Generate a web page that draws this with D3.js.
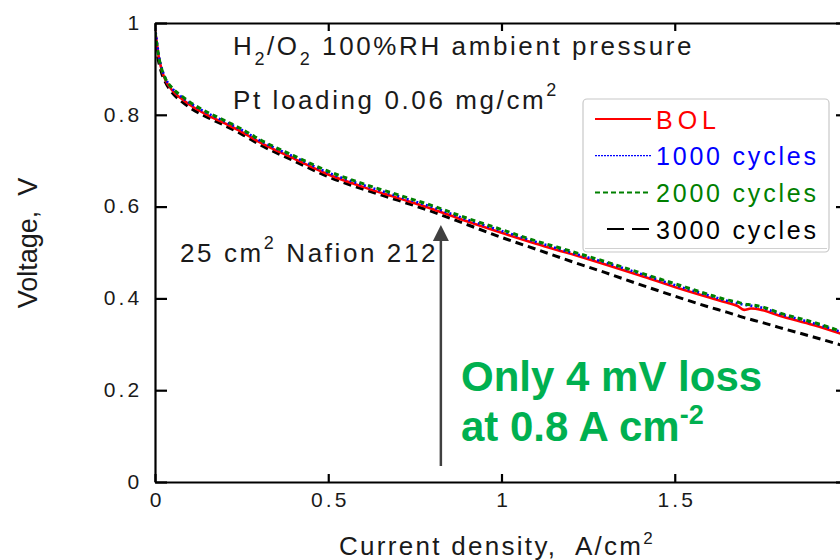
<!DOCTYPE html>
<html><head><meta charset="utf-8">
<script src="https://cdn.jsdelivr.net/npm/d3@7"></script>
<style>
html,body{margin:0;padding:0;background:#fff;}
svg{display:block;font-family:"Liberation Sans",Arial,sans-serif;}
.pre{white-space:pre;}
</style></head>
<body>
<svg id="chart" width="840" height="560"></svg>
<script>
// ---- data ----
const currentDensity = [0, 0.005, 0.01, 0.02, 0.03, 0.05, 0.075, 0.1, 0.15, 0.2, 0.25, 0.3, 0.4, 0.5, 0.6, 0.7, 0.8, 0.9, 1.0, 1.1, 1.2, 1.3, 1.4, 1.5, 1.6, 1.65, 1.68, 1.7, 1.72, 1.75, 1.8, 1.9, 2.0];
const bolV      = [0.985, 0.958, 0.93, 0.896, 0.876, 0.853, 0.836, 0.822, 0.800, 0.782, 0.763, 0.741, 0.705, 0.670, 0.643, 0.619, 0.595, 0.568, 0.543, 0.519, 0.497, 0.474, 0.450, 0.425, 0.402, 0.391, 0.384, 0.375, 0.378, 0.375, 0.363, 0.342, 0.318];
const cyc1000V  = [0.99, 0.962, 0.934, 0.900, 0.880, 0.857, 0.840, 0.826, 0.804, 0.786, 0.767, 0.745, 0.709, 0.674, 0.647, 0.623, 0.599, 0.572, 0.547, 0.523, 0.500, 0.478, 0.454, 0.429, 0.406, 0.395, 0.390, 0.386, 0.384, 0.380, 0.367, 0.346, 0.322];
const cyc2000V  = [0.98, 0.955, 0.930, 0.898, 0.879, 0.858, 0.842, 0.828, 0.806, 0.788, 0.769, 0.747, 0.711, 0.677, 0.650, 0.626, 0.602, 0.575, 0.550, 0.525, 0.503, 0.480, 0.456, 0.432, 0.408, 0.397, 0.392, 0.388, 0.386, 0.382, 0.369, 0.348, 0.323];
const cyc3000V  = [0.955, 0.940, 0.918, 0.889, 0.871, 0.848, 0.830, 0.816, 0.795, 0.777, 0.758, 0.736, 0.700, 0.665, 0.638, 0.614, 0.589, 0.561, 0.533, 0.507, 0.481, 0.456, 0.430, 0.405, 0.381, 0.370, 0.363, 0.358, 0.354, 0.348, 0.337, 0.316, 0.294];
const seriesNames = ["BOL", "1000 cycles", "2000 cycles", "3000 cycles"];
const xTicks = [0, 0.5, 1, 1.5, 2];
const yTicks = [0, 0.2, 0.4, 0.6, 0.8, 1];

// ---- layout ----
const svg = d3.select("#chart");
const L = 155, R = 848, T = 23, B = 482;
const x = d3.scaleLinear().domain([0, 2]).range([L, R]);
const y = d3.scaleLinear().domain([0, 1]).range([B, T]);
const fmt = d => d3.format("~g")(d);

svg.append("defs").append("clipPath").attr("id", "plotclip")
  .append("rect").attr("x", L).attr("y", T).attr("width", R - L).attr("height", B - T);

// ---- series ----
const styles = [
  {name: seriesNames[3], vals: cyc3000V, color: "#000000", dash: "8,5", w: 3},
  {name: seriesNames[0], vals: bolV, color: "#ff0000", dash: null, w: 2.6},
  {name: seriesNames[1], vals: cyc1000V, color: "#0000ff", dash: "2,3", w: 2.6},
  {name: seriesNames[2], vals: cyc2000V, color: "#008000", dash: "5,4", w: 3}
];
const line = d3.line().x(d => x(d[0])).y(d => y(d[1])).curve(d3.curveMonotoneX);
const gLines = svg.append("g").attr("clip-path", "url(#plotclip)");
styles.forEach(s => {
  gLines.append("path")
    .datum(currentDensity.map((c, i) => [c, s.vals[i]]))
    .attr("d", line).attr("fill", "none")
    .attr("stroke", s.color).attr("stroke-width", s.w)
    .attr("stroke-dasharray", s.dash);
});

// ---- axes ----
const tickFont = g => g.selectAll("text")
  .attr("font-size", 21).attr("fill", "#1a1a1a")
  .attr("font-family", "'Liberation Sans',Arial,sans-serif")
  .attr("letter-spacing", 3.2);
const axisStyle = g => { g.selectAll("path,line").attr("stroke", "#000").attr("stroke-width", 2.2); };

svg.append("g").attr("transform", `translate(0,${B})`)
  .call(d3.axisBottom(x).tickValues(xTicks).tickFormat(fmt).tickSizeInner(-8).tickSizeOuter(0).tickPadding(10))
  .call(axisStyle).call(tickFont)
  .call(g => g.selectAll("text").attr("dx", 1.6));
svg.append("g").attr("transform", `translate(${L},0)`)
  .call(d3.axisLeft(y).tickValues(yTicks).tickFormat(fmt).tickSizeInner(-12).tickSizeOuter(0).tickPadding(12.5))
  .call(axisStyle).call(tickFont)
  .call(g => g.selectAll("text").attr("dy", "0.3em"));
svg.append("g").attr("transform", `translate(0,${T})`)
  .call(d3.axisTop(x).tickValues(xTicks).tickFormat("").tickSizeInner(-8).tickSizeOuter(0))
  .call(axisStyle);
svg.append("g").attr("transform", `translate(${R},0)`)
  .call(d3.axisRight(y).tickValues(yTicks).tickFormat("").tickSizeInner(-12).tickSizeOuter(0))
  .call(axisStyle);

// ---- axis titles ----
const xt = svg.append("text").attr("class", "pre").attr("x", 497).attr("y", 555).attr("text-anchor", "middle")
  .attr("font-size", 26).attr("letter-spacing", 2.3).attr("fill", "#1a1a1a");
xt.append("tspan").text("Current density,  A/cm");
xt.append("tspan").attr("font-size", 17).attr("dy", -11).text("2");

svg.append("text").attr("class", "pre").attr("transform", "translate(37,243) rotate(-90)")
  .attr("text-anchor", "middle").attr("font-size", 27).attr("fill", "#1a1a1a")
  .text("Voltage,  V");

// ---- annotations ----
const annFont = 26, annLs = 2.6;
const a1 = svg.append("text").attr("x", 233).attr("y", 55).attr("font-size", annFont)
  .attr("letter-spacing", annLs).attr("fill", "#1a1a1a");
a1.append("tspan").text("H");
a1.append("tspan").attr("font-size", 18).attr("dy", 10).text("2");
a1.append("tspan").attr("dy", -10).text("/O");
a1.append("tspan").attr("font-size", 18).attr("dy", 10).text("2");
a1.append("tspan").attr("dy", -10).text(" 100%RH ambient pressure");

const a2 = svg.append("text").attr("x", 233).attr("y", 109).attr("font-size", annFont)
  .attr("letter-spacing", annLs).attr("fill", "#1a1a1a");
a2.append("tspan").text("Pt loading 0.06 mg/cm");
a2.append("tspan").attr("font-size", 18).attr("dy", -13).text("2");

const a3 = svg.append("text").attr("x", 180).attr("y", 262).attr("font-size", annFont)
  .attr("letter-spacing", annLs).attr("fill", "#1a1a1a");
a3.append("tspan").text("25 cm");
a3.append("tspan").attr("font-size", 18).attr("dy", -13).text("2");
a3.append("tspan").attr("dy", 13).text(" Nafion 212");

// arrow at 0.82 A/cm2
const arrowJ = 0.825;
svg.append("line").attr("x1", x(arrowJ)).attr("x2", x(arrowJ)).attr("y1", 466).attr("y2", 236)
  .attr("stroke", "#404040").attr("stroke-width", 2.5);
svg.append("path")
  .attr("d", `M${x(arrowJ)},225 L${x(arrowJ) - 8},241 L${x(arrowJ) + 8},241 Z`)
  .attr("fill", "#404040");

svg.append("text").attr("x", 461).attr("y", 391).attr("font-size", 42)
  .attr("font-weight", "bold").attr("fill", "#00b050").text("Only 4 mV loss");
const g2 = svg.append("text").attr("x", 461).attr("y", 441).attr("font-size", 42)
  .attr("font-weight", "bold").attr("fill", "#00b050");
g2.append("tspan").text("at 0.8 A cm");
g2.append("tspan").attr("font-size", 27).attr("dy", -17).text("-2");

// ---- legend ----
const leg = svg.append("g");
leg.append("rect").attr("x", 583).attr("y", 99).attr("width", 246).attr("height", 153)
  .attr("rx", 4).attr("fill", "#fff").attr("stroke", "#c8c8c8").attr("stroke-width", 1.2);
leg.append("line").attr("x1", 585).attr("x2", 827).attr("y1", 248.5).attr("y2", 248.5)
  .attr("stroke", "#d0d0d0").attr("stroke-width", 1);
const legItems = [
  {name: seriesNames[0], color: "#ff0000", dash: null, w: 2.2, x1: 595},
  {name: seriesNames[1], color: "#0000ff", dash: "2,1", w: 1.2, x1: 595},
  {name: seriesNames[2], color: "#008000", dash: "5,3", w: 2, x1: 595},
  {name: seriesNames[3], color: "#000000", dash: "17,8", w: 2, x1: 607}
];
legItems.forEach((it, i) => {
  const yy = 119 + i * 36.7;
  leg.append("line").attr("x1", it.x1).attr("x2", 651).attr("y1", yy).attr("y2", yy)
    .attr("stroke", it.color).attr("stroke-width", it.w).attr("stroke-dasharray", it.dash);
  leg.append("text").attr("x", 656).attr("y", yy + 9.5).attr("font-size", 25)
    .attr("letter-spacing", it.name === "BOL" ? 5 : 2.8).attr("fill", it.color).text(it.name);
});
</script>
</body></html>
